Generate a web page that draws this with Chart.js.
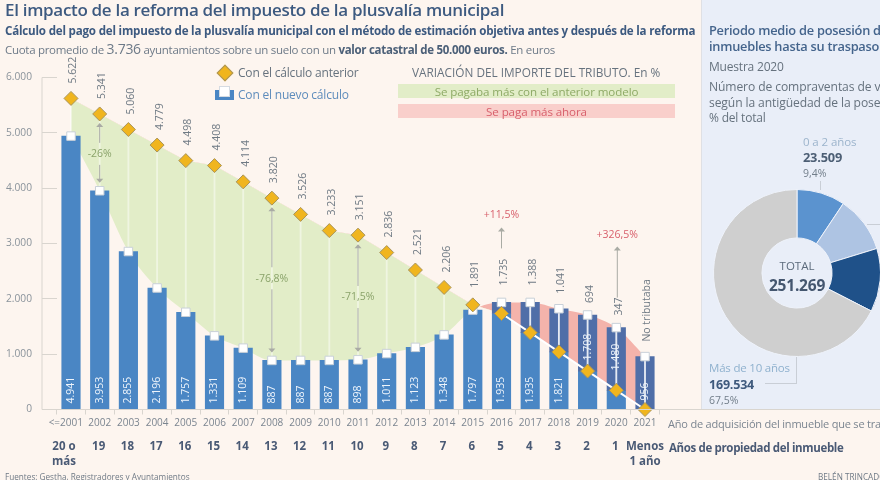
<!DOCTYPE html>
<html lang="es"><head><meta charset="utf-8">
<script src="https://cdn.jsdelivr.net/npm/chart.js@4"></script>
<style>
html,body{margin:0;padding:0;width:880px;height:480px;overflow:hidden;background:#fdf5ef;font-family:"Open Sans",sans-serif}
#page{position:relative;width:880px;height:480px;overflow:hidden}
#page>div{position:absolute;white-space:nowrap;transform:translateY(-50%)}
#panel,#gbox,#pbox,.ln,#iconbar,#iconsq,#dia{transform:none!important}
#panel{left:701px;top:0;width:179px;height:409px;background:#e9eef8;border-left:1px solid #dfe0e4}
canvas{position:absolute}
#main{left:0;top:0}
#pie{left:713px;top:189px}
.ln{background:#c9ced6}
</style></head><body><div id="page">
<div id="panel"></div>
<canvas id="main" width="880" height="480"></canvas>
<canvas id="pie" width="168" height="168"></canvas>
<div style="left:5px;top:9px;font-size:17px;font-weight:600;color:#3d5a80;letter-spacing:-.31px">El impacto de la reforma del impuesto de la plusvalía municipal</div>
<div style="left:5px;top:30px;font-size:11.6px;font-weight:700;color:#3d5a80;letter-spacing:-.2px">Cálculo del pago del impuesto de la plusvalía municipal con el método de estimación objetiva antes y después de la reforma</div>
<div style="left:5px;top:47.5px;font-size:11.5px;color:#6d7a88;letter-spacing:-.29px">Cuota promedio de <span style="font-size:14px">3.736</span> ayuntamientos sobre un suelo con un <b style="color:#4c6078">valor catastral de 50.000 euros.</b> En euros</div>
<div id="dia" style="left:219px;top:67px;width:10px;height:10px;background:#f0b51e;border:1px solid #a8945c;transform:rotate(45deg)!important"></div>
<div style="left:238px;top:72px;font-size:12px;color:#66727e;letter-spacing:-.2px">Con el cálculo anterior</div>
<div id="iconbar" style="left:215px;top:90px;width:19px;height:10px;background:#4a86c4"></div>
<div id="iconsq" style="left:220px;top:87px;width:9px;height:9px;background:#fff;outline:1px solid #d5dbe2"></div>
<div style="left:238px;top:94px;font-size:12px;color:#5e8cbc;letter-spacing:-.2px">Con el nuevo cálculo</div>
<div style="left:412px;top:72px;font-size:11.8px;color:#66727e">VARIACIÓN DEL IMPORTE DEL TRIBUTO. En %</div>
<div id="gbox" style="left:398px;top:84px;width:277px;height:14px;background:#e2edc8"></div>
<div id="pbox" style="left:398px;top:104px;width:277px;height:14px;background:#f9cfcb"></div>
<div style="left:398px;width:277px;top:91px;text-align:center;font-size:11.6px;color:#8eaa66;letter-spacing:-.1px">Se pagaba más con el anterior modelo</div>
<div style="left:398px;width:277px;top:111px;text-align:center;font-size:11.6px;color:#d8606c;letter-spacing:-.1px">Se paga más ahora</div>

<div style="left:709px;top:30px;font-size:12.8px;font-weight:600;color:#44648c;letter-spacing:-.25px">Periodo medio de posesión de los</div>
<div style="left:709px;top:46px;font-size:12.8px;font-weight:600;color:#44648c;letter-spacing:-.25px">inmuebles hasta su traspaso</div>
<div style="left:709px;top:66px;font-size:12px;color:#66727e;letter-spacing:-.2px">Muestra 2020</div>
<div style="left:709px;top:86px;font-size:12.1px;color:#66727e;letter-spacing:-.1px">Número de compraventas de viviendas</div>
<div style="left:709px;top:102px;font-size:12.1px;color:#66727e;letter-spacing:-.1px">según la antigüedad de la posesión</div>
<div style="left:709px;top:117px;font-size:12px;color:#66727e;letter-spacing:-.2px">% del total</div>
<div style="left:803px;top:141px;font-size:11.5px;color:#9cb4cc;letter-spacing:-.1px">0 a 2 años</div>
<div style="left:803px;top:157px;font-size:12.8px;font-weight:700;color:#4c5e74;letter-spacing:-.2px">23.509</div>
<div style="left:803px;top:173px;font-size:10.5px;color:#727e8a">9,4%</div>
<div class="ln" style="left:820px;top:181px;width:1px;height:9px"></div>
<div class="ln" style="left:867px;top:224px;width:13px;height:1px"></div>
<div class="ln" style="left:796px;top:357px;width:1px;height:26px"></div>
<div class="ln" style="left:765px;top:383px;width:32px;height:1px"></div>
<div style="left:797px;top:265px;transform:translate(-50%,-50%);font-size:11.5px;color:#5c6b7c">TOTAL</div>
<div style="left:797px;top:285px;transform:translate(-50%,-50%);font-size:15.5px;font-weight:700;color:#44566f;letter-spacing:-.2px">251.269</div>
<div style="left:709px;top:367px;font-size:11.5px;color:#8fb1ce;letter-spacing:-.2px">Más de 10 años</div>
<div style="left:709px;top:384px;font-size:12.5px;font-weight:700;color:#3f5a7d;letter-spacing:-.2px">169.534</div>
<div style="left:709px;top:400px;font-size:10.5px;color:#727e8a">67,5%</div>

<div style="left:668px;top:423px;font-size:11px;color:#7b8590;letter-spacing:-.2px">Año de adquisición del inmueble que se transmite</div>
<div style="left:669px;top:447px;font-size:11.5px;font-weight:700;color:#4a5a75;letter-spacing:-.35px">Años de propiedad del inmueble</div>
<div style="left:5px;top:476px;font-size:8.2px;color:#6f7a86">Fuentes: Gestha, Registradores y Ayuntamientos</div>
<div style="left:818px;top:476px;font-size:8.2px;color:#6f7a86">BELÉN TRINCADO</div>
</div>
<script>
const years = ['<=2001','2002','2003','2004','2005','2006','2007','2008','2009','2010','2011','2012','2013','2014','2015','2016','2017','2018','2019','2020','2021'];
const ownership = ['20 o|más','19','18','17','16','15','14','13','12','11','10','9','8','7','6','5','4','3','2','1','Menos|1 año'];
const previousCalc = [5622,5341,5060,4779,4498,4408,4114,3820,3526,3233,3151,2836,2521,2206,1891,1735,1388,1041,694,347,0];
const newCalc = [4941,3953,2855,2196,1757,1331,1109,887,887,887,898,1011,1123,1348,1797,1935,1935,1821,1708,1480,956];
const arrowsIdx = [1,7,10];
const arrowsText = ['-26%','-76,8%','-71,5%'];
const upIdx = [15,19];
const upText = ['+11,5%','+326,5%'];
const pieLabels = ['0 a 2 años','3 a 5 años','6 a 10 años','Más de 10 años'];
const pieValues = [23509,27400,30826,169534];

const fmt = v => String(v).replace(/\B(?=(\d{3})+$)/g,'.');
const FONT = '"Open Sans",sans-serif';
const BLUE='#4a86c4', DARK='#4f6ea8';

function rot(ctx,t,x,y,font,color){
  ctx.save();ctx.translate(x,y);ctx.rotate(-Math.PI/2);
  ctx.font=font;ctx.fillStyle=color;ctx.textAlign='left';ctx.textBaseline='middle';
  ctx.fillText(t,0,0);ctx.restore();
}
function arrowHead(ctx,x,y,dir){
  ctx.beginPath();ctx.moveTo(x,y);ctx.lineTo(x-3.5,y-dir*4);ctx.lineTo(x+3.5,y-dir*4);ctx.closePath();ctx.fill();
}
const overlay = {
  id:'overlay',
  afterDatasetsDraw(c){
    const {ctx,scales:{x,y}} = c;
    ctx.save();
    // axis lines
    ctx.strokeStyle='#d9d5cf';ctx.lineWidth=1;
    const y0=y.getPixelForValue(0), left=c.chartArea.left-14.65;
    ctx.beginPath();ctx.moveTo(left,y.getPixelForValue(6000));ctx.lineTo(left,y0);ctx.lineTo(880,y0);ctx.stroke();
    // double arrows with green text
    ctx.strokeStyle='#a9aba4';ctx.fillStyle='#a9aba4';
    arrowsIdx.forEach((i,k)=>{
      const px=x.getPixelForValue(i),t=y.getPixelForValue(previousCalc[i])+10,b=y.getPixelForValue(newCalc[i])-9,m=(k==0?(t+b)/2+1:(k==1?(t+b)/2-1.5:(t+b)/2-1));
      ctx.beginPath();ctx.moveTo(px,t);ctx.lineTo(px,m-11);ctx.moveTo(px,m+11);ctx.lineTo(px,b);ctx.stroke();
      arrowHead(ctx,px,t-1,-1);arrowHead(ctx,px,b+1,1);
    });
    ctx.font='10.5px '+FONT;ctx.textAlign='center';ctx.textBaseline='middle';ctx.fillStyle='#8aa36a';
    arrowsIdx.forEach((i,k)=>{
      const px=x.getPixelForValue(i),t=y.getPixelForValue(previousCalc[i])+10,b=y.getPixelForValue(newCalc[i])-9;
      ctx.fillText(arrowsText[k],px,(t+b)/2+(k==0?1:-1));
    });
    // up arrows with red text
    upIdx.forEach((i,k)=>{
      const px=x.getPixelForValue(i)+(k==0?0:1);
      const top=y.getPixelForValue(newCalc[i]);
      const a=top-(k==0?74:80), b=top-(k==0?54:30);
      ctx.strokeStyle='#a9aba4';ctx.fillStyle='#a9aba4';
      ctx.beginPath();ctx.moveTo(px,a);ctx.lineTo(px,b);ctx.stroke();
      arrowHead(ctx,px,a-1,-1);
      ctx.fillStyle='#d8606c';ctx.font='10.5px '+FONT;
      ctx.fillText(upText[k],px,a-13);
    });
    // value labels
    const lf='10.5px '+FONT, lc='#6f7a84';
    years.forEach((_,i)=>{
      const px=x.getPixelForValue(i);
      const hi=y.getPixelForValue(Math.max(previousCalc[i],newCalc[i]));
      const gap=(i==18||i==19)?12:(i==15||i==16)?17:(i==14)?17:15;
      const txt=previousCalc[i]>0?fmt(previousCalc[i]):'No tributaba';
      rot(ctx,txt,px+2.5,hi-gap,lf,lc);
      const base=y0-6-(i==18?43:i==19?33:i==20?3:0);
      rot(ctx,fmt(newCalc[i]),px,base,'10.5px '+FONT,'#eef4fb');
    });
    // ownership row
    ctx.font='700 11.5px '+FONT;ctx.fillStyle='#4a5a75';ctx.textAlign='center';ctx.textBaseline='middle';
    ownership.forEach((s,i)=>{
      const px=x.getPixelForValue(i)-1;
      s.split('|').forEach((l,j)=>ctx.fillText(l,px+(i==0?-6:i==20?1:0),447+j*14.5));
    });
    ctx.restore();
  }
};

new Chart(document.getElementById('main'),{
  data:{labels:years,datasets:[
    {type:'line',label:'Con el cálculo anterior',data:previousCalc,order:1,clip:false,tension:0,
     borderWidth:2,segment:{borderColor:s=>s.p0DataIndex>=15?'#ffffff':'rgba(0,0,0,0)'},
     pointStyle:'rectRot',pointRadius:7,pointBackgroundColor:'#f0b51e',pointBorderColor:'#a8945c',pointBorderWidth:1,fill:false},
    {type:'line',label:'Con el nuevo cálculo',data:newCalc,order:2,clip:false,cubicInterpolationMode:'monotone',
     borderWidth:0,borderColor:'rgba(0,0,0,0)',
     pointStyle:'rect',pointRadius:6,pointBackgroundColor:'#ffffff',pointBorderColor:'#c9d0d8',pointBorderWidth:1,
     fill:{target:0,above:'#f4b3ab',below:'#e2edc8'}},
    {type:'bar',label:'guía',data:years.map((_,i)=>[Math.min(previousCalc[i],newCalc[i]),Math.max(previousCalc[i],newCalc[i])]),
     backgroundColor:c=>c.dataIndex>=15?'rgba(255,255,255,.85)':'rgba(255,255,255,.45)',barThickness:1.2,grouped:false,order:3},
    {type:'bar',label:'exceso',data:years.map((_,i)=>newCalc[i]>previousCalc[i]?[previousCalc[i],newCalc[i]]:null),
     backgroundColor:DARK,barThickness:18.5,grouped:false,order:4},
    {type:'bar',label:'base',data:years.map((_,i)=>Math.min(previousCalc[i],newCalc[i])),
     backgroundColor:BLUE,barThickness:18.5,grouped:false,order:5}
  ]},
  options:{
    responsive:false,animation:false,events:[],
    layout:{padding:{left:0,right:220.65,top:77.5,bottom:0}},
    plugins:{legend:{display:false},tooltip:{enabled:false},filler:{drawTime:'beforeDatasetsDraw'}},
    scales:{
      x:{type:'category',offset:true,
         afterFit:s=>{s.height=70.5},
         grid:{drawOnChartArea:false,tickLength:5,color:'#d9d5cf'},border:{display:false},
         ticks:{autoSkip:false,maxRotation:0,minRotation:0,padding:3,color:'#7b8590',font:{family:FONT,size:10},
                callback:(v,i)=>i===0?years[0]+'\u00a0\u00a0\u00a0\u00a0':years[i]}},
      y:{min:0,max:6000,
         afterFit:s=>{s.width=56.65},
         grid:{drawOnChartArea:false,tickLength:14.65,color:'#d9d5cf'},border:{display:false},
         ticks:{stepSize:1000,padding:10,color:'#8a939b',font:{family:FONT,size:10.2},callback:v=>fmt(v)}}
    }
  },
  plugins:[overlay]
});

new Chart(document.getElementById('pie'),{
  type:'doughnut',
  data:{labels:pieLabels,datasets:[{data:pieValues,backgroundColor:['#5b93cf','#aec4e3','#1f5189','#cfcfcf'],borderWidth:1,borderColor:'#eef2fa'}]},
  options:{responsive:false,animation:false,events:[],cutout:'42%',layout:{padding:0},plugins:{legend:{display:false},tooltip:{enabled:false}}}
});
</script></body></html>
